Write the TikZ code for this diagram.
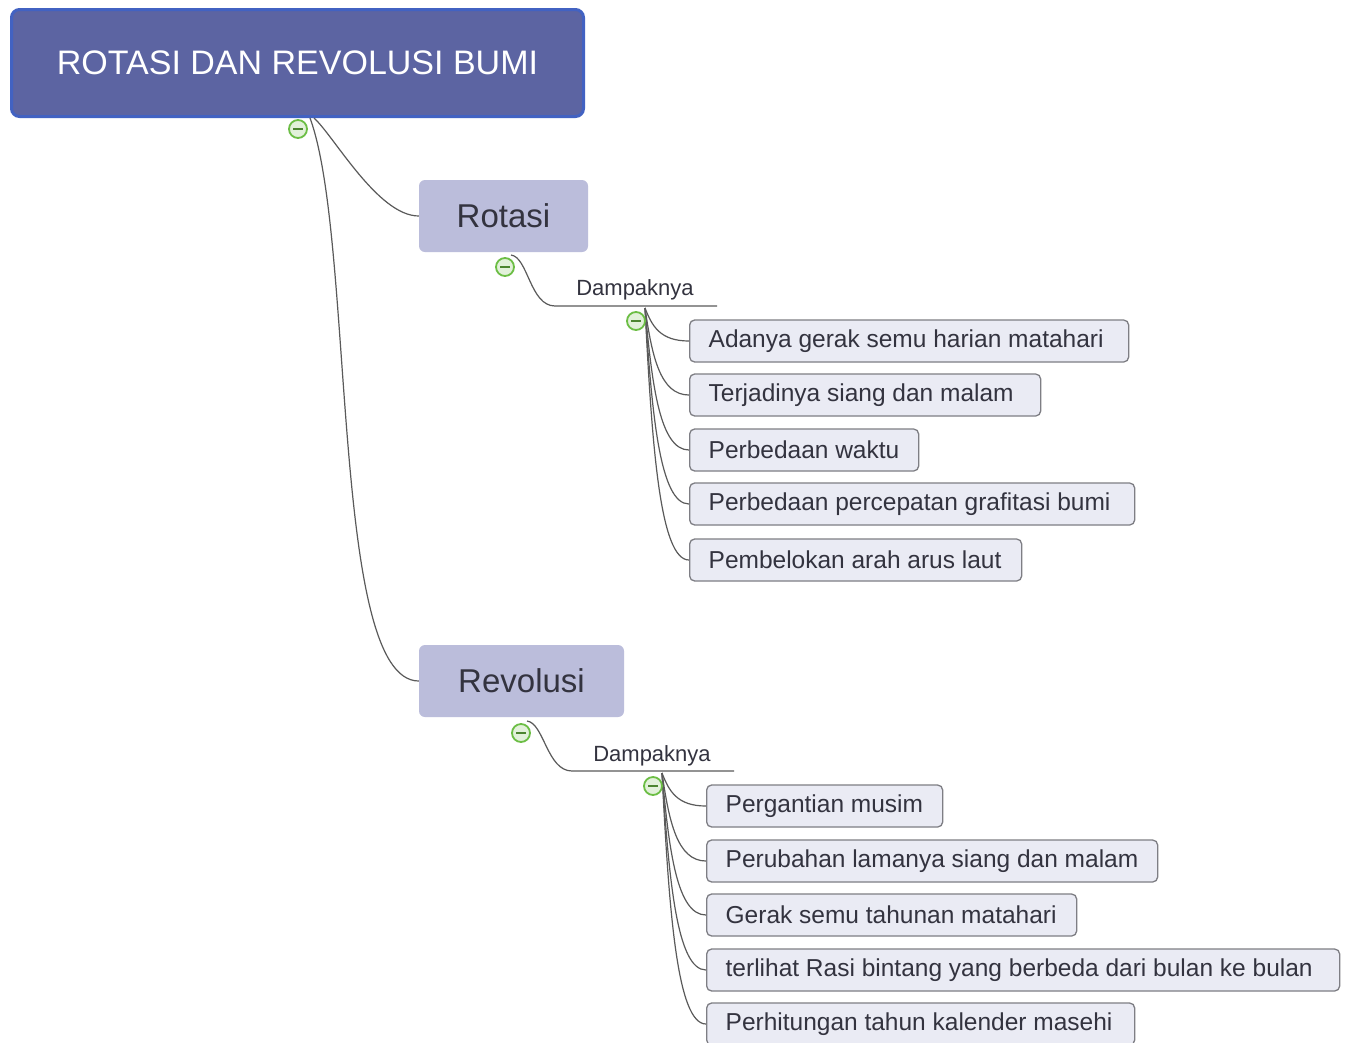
\documentclass[tikz,border=0pt]{standalone}
\usepackage{fontspec}
\setmainfont{Liberation Sans}
\definecolor{rootfill}{HTML}{5C64A2}
\definecolor{rootborder}{HTML}{4262C2}
\definecolor{subfill}{HTML}{BBBDDB}
\definecolor{leaffill}{HTML}{EAEBF4}
\definecolor{leafborder}{HTML}{7E7E84}
\definecolor{txt}{HTML}{33333F}
\definecolor{conn}{HTML}{5A5A5A}
\definecolor{tgreen}{HTML}{6CBE45}
\definecolor{tgreenfill}{HTML}{E2F1DA}
\newcommand\lfbox[2]{\makebox[#1][l]{#2}}
\tikzset{
  rootbox/.style={draw=rootborder, line width=3pt, fill=rootfill, rounded corners=8pt, text=white, font=\fontsize{34}{36}\selectfont, inner sep=0pt, minimum width=572pt, minimum height=107pt},
  subbox/.style={fill=subfill, rounded corners=6pt, text=txt, font=\fontsize{33}{36}\selectfont, inner sep=0pt, minimum height=72pt},
  leaf/.style={draw=leafborder, line width=1.3pt, fill=leaffill, rounded corners=5pt, text=txt, font=\fontsize{24.5}{26}\selectfont, inner xsep=19pt, inner ysep=0pt, minimum height=42pt, anchor=west},
  damp/.style={text=txt, font=\fontsize{22}{24}\selectfont, inner sep=0pt, anchor=base},
  conline/.style={draw=conn, line width=1.2pt},
  toggle/.style={circle, draw=tgreen, line width=1.8pt, fill=tgreenfill, minimum size=18pt, inner sep=0pt,
    path picture={\draw[draw=tgreen!70!black, line width=2.2pt] ([xshift=-5pt]path picture bounding box.center) -- ([xshift=5pt]path picture bounding box.center);}},
}
\begin{document}
\begin{tikzpicture}[x=1pt,y=-1pt]
\useasboundingbox[fill=white] (0,0) rectangle (1348,1042);

% main nodes
\node[rootbox] (root) at (297.5,63) {ROTASI DAN REVOLUSI BUMI};
\node[subbox, minimum width=169pt] (rot) at (503.5,216) {Rotasi};
\node[subbox, minimum width=205pt] (rev) at (521.5,681) {Revolusi};

% Dampaknya labels
\node[damp] (dk1) at (635,295) {Dampaknya};
\node[damp] (dk2) at (652,761) {Dampaknya};

% leaves of Rotasi
\node[leaf] (a1) at (689,341) {\lfbox{401pt}{Adanya gerak semu harian matahari}};
\node[leaf] (a2) at (689,395) {\lfbox{313pt}{Terjadinya siang dan malam}};
\node[leaf] (a3) at (689,450) {\lfbox{191pt}{Perbedaan waktu}};
\node[leaf] (a4) at (689,504) {\lfbox{407pt}{Perbedaan percepatan grafitasi bumi}};
\node[leaf] (a5) at (689,560) {\lfbox{294pt}{Pembelokan arah arus laut}};

% leaves of Revolusi
\node[leaf] (b1) at (706,806) {\lfbox{198pt}{Pergantian musim}};
\node[leaf] (b2) at (706,861) {\lfbox{413pt}{Perubahan lamanya siang dan malam}};
\node[leaf] (b3) at (706,915) {\lfbox{332pt}{Gerak semu tahunan matahari}};
\node[leaf] (b4) at (706,970) {\lfbox{595pt}{terlihat Rasi bintang yang berbeda dari bulan ke bulan}};
\node[leaf] (b5) at (706,1024) {\lfbox{390pt}{Perhitungan tahun kalender masehi}};

% connector anchor coordinates
\coordinate (rs1) at (314,118);
\coordinate (rs2) at (310,118);
\coordinate (ros) at (511,255);
\coordinate (d1a) at (555,306);
\coordinate (d1b) at (717,306);
\coordinate (d1s) at (645,308);
\coordinate (res) at (527,721);
\coordinate (d2a) at (572,771);
\coordinate (d2b) at (734,771);
\coordinate (d2s) at (662,773);

% root connectors
\draw[conline] (rs1) .. controls (334,136) and (378,216) .. (rot.west);
\draw[conline] (rs2) .. controls (355,240) and (330,681) .. (rev.west);

% Rotasi / Revolusi -> Dampaknya
\draw[conline] (ros) .. controls (528,257) and (530,306) .. (d1a) -- (d1b);
\draw[conline] (res) .. controls (544,723) and (547,771) .. (d2a) -- (d2b);

% Dampaknya -> leaves (group 1)
\draw[conline] (d1s) .. controls (652,326) and (660,341) .. (a1.west);
\draw[conline] (d1s) .. controls (652,356) and (660,395) .. (a2.west);
\draw[conline] (d1s) .. controls (652,386) and (660,450) .. (a3.west);
\draw[conline] (d1s) .. controls (652,416) and (660,504) .. (a4.west);
\draw[conline] (d1s) .. controls (652,447) and (660,560) .. (a5.west);

% group 2
\draw[conline] (d2s) .. controls (669,791) and (677,806) .. (b1.west);
\draw[conline] (d2s) .. controls (669,821) and (677,861) .. (b2.west);
\draw[conline] (d2s) .. controls (669,851) and (677,915) .. (b3.west);
\draw[conline] (d2s) .. controls (669,881) and (677,970) .. (b4.west);
\draw[conline] (d2s) .. controls (669,911) and (677,1024) .. (b5.west);

% collapse toggles
\node[toggle] (t0) at (298,129) {};
\node[toggle] (t1) at (505,267) {};
\node[toggle] (t2) at (636,321) {};
\node[toggle] (t3) at (521,733) {};
\node[toggle] (t4) at (653,786) {};
\end{tikzpicture}
\end{document}
